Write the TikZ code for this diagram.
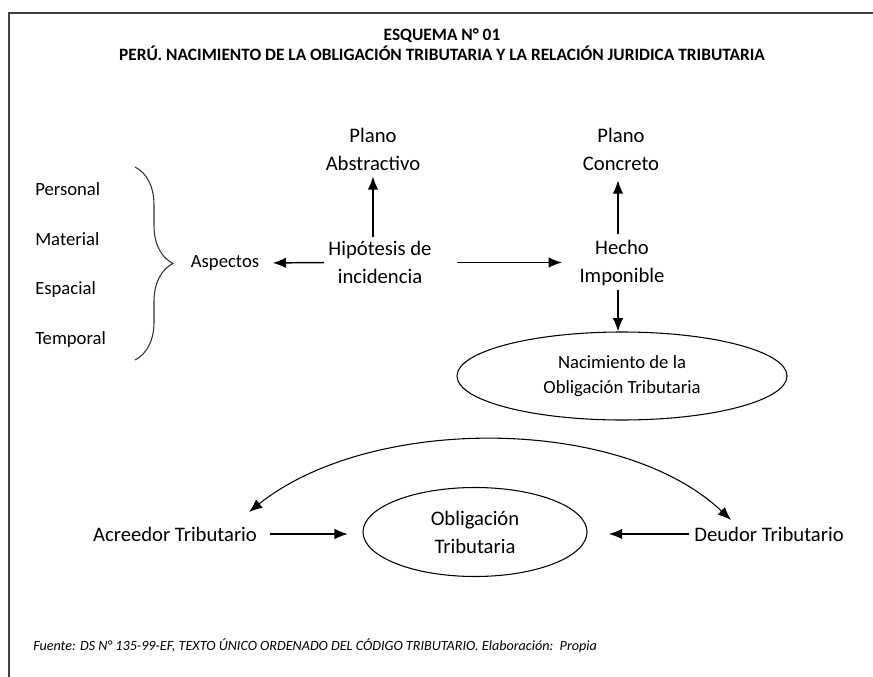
\documentclass[tikz,border=0pt]{standalone}
\usepackage{fontspec}
\setmainfont{Carlito}
\usetikzlibrary{arrows.meta,shapes.geometric,decorations.pathreplacing}

\begin{document}
\begin{tikzpicture}[x=0.75pt, y=-0.75pt,
  >={Latex[length=10pt,width=8pt]},
  texto/.style={inner sep=0pt, align=center, font=\fontsize{15.5}{21}\selectfont},
  chico/.style={inner sep=0pt, align=center, font=\fontsize{14}{18.75}\selectfont},
  elipse/.style={ellipse, draw, line width=0.8pt, inner sep=0pt},
  flecha/.style={->, line width=1.1pt}]
\useasboundingbox (0,0) rectangle (873,677);

% Marco
\draw[line width=1.2pt, black!75] (9,677) -- (9,13) -- (873,13);

% Titulo y fuente
\node[font=\bfseries\fontsize{13}{15}\selectfont, align=center] (titulo) at (442,45)
  {ESQUEMA N° 01\\PERÚ. NACIMIENTO DE LA OBLIGACIÓN TRIBUTARIA Y LA RELACIÓN JURIDICA TRIBUTARIA};
\node[anchor=west, inner sep=0pt, font=\itshape\fontsize{10.6}{12}\selectfont] (fuente) at (33,646)
  {Fuente: DS N° 135-99-EF, TEXTO ÚNICO ORDENADO DEL CÓDIGO TRIBUTARIO. Elaboración:\ \ Propia};

% Aspectos de la hipotesis
\node[chico, anchor=west] (personal) at (35,189) {Personal};
\node[chico, anchor=west] (material) at (35,239) {Material};
\node[chico, anchor=west] (espacial) at (35,290) {Espacial};
\node[chico, anchor=west] (temporal) at (35,340) {Temporal};
\draw[decorate, decoration={brace, amplitude=28.5pt}, line width=0.8pt, black!80]
  (135,167) -- (135,360);
\node[chico] (aspectos) at (225,263) {Aspectos};

% Plano abstractivo y concreto
\node[texto] (abstracto) at (373,149.5) {Plano\\Abstractivo};
\node[texto] (concreto) at (621,149.5) {Plano\\Concreto};
\node[texto] (hipotesis) at (380,262.5) {Hipótesis de\\incidencia};
\node[texto] (hecho) at (622,262.5) {Hecho\\Imponible};
\node[elipse, chico, minimum width=330*0.75pt, minimum height=88*0.75pt] (nacimiento) at (622,376)
  {Nacimiento de la\\Obligación Tributaria};

\draw[flecha, shorten <=3pt, shorten >=4pt] (hipotesis.north -| abstracto) -- (abstracto.south);
\draw[flecha, shorten <=4pt, shorten >=7pt] (hecho.north -| 618,0) -- (concreto.south -| 618,0);
\draw[flecha, shorten <=3pt, shorten >=10pt] (hipotesis.west) -- (aspectos.east);
\draw[flecha, shorten <=19pt, shorten >=13pt] (hipotesis.east) -- (hecho.west);
\draw[flecha, shorten <=3pt] (hecho.south -| 618,0) -- (nacimiento.north -| 618,0);

% Relacion juridica tributaria
\node[texto] (acreedor) at (175,534) {Acreedor Tributario};
\node[texto] (deudor) at (769,534) {Deudor Tributario};
\node[elipse, texto, minimum width=224*0.75pt, minimum height=89*0.75pt] (obligacion) at (475,532)
  {Obligación\\Tributaria};
\coordinate (arcoA) at (249,512);
\coordinate (arcoD) at (731,520);

\draw[flecha, shorten <=10pt, shorten >=11pt] (acreedor.east) -- (acreedor.east -| obligacion.west);
\draw[flecha, shorten <=4pt, shorten >=16pt] (deudor.west) -- (deudor.west -| obligacion.east);
\draw[<->, line width=0.8pt] (arcoA) .. controls (370,415) and (620,415) .. (arcoD);

\end{tikzpicture}
\end{document}
